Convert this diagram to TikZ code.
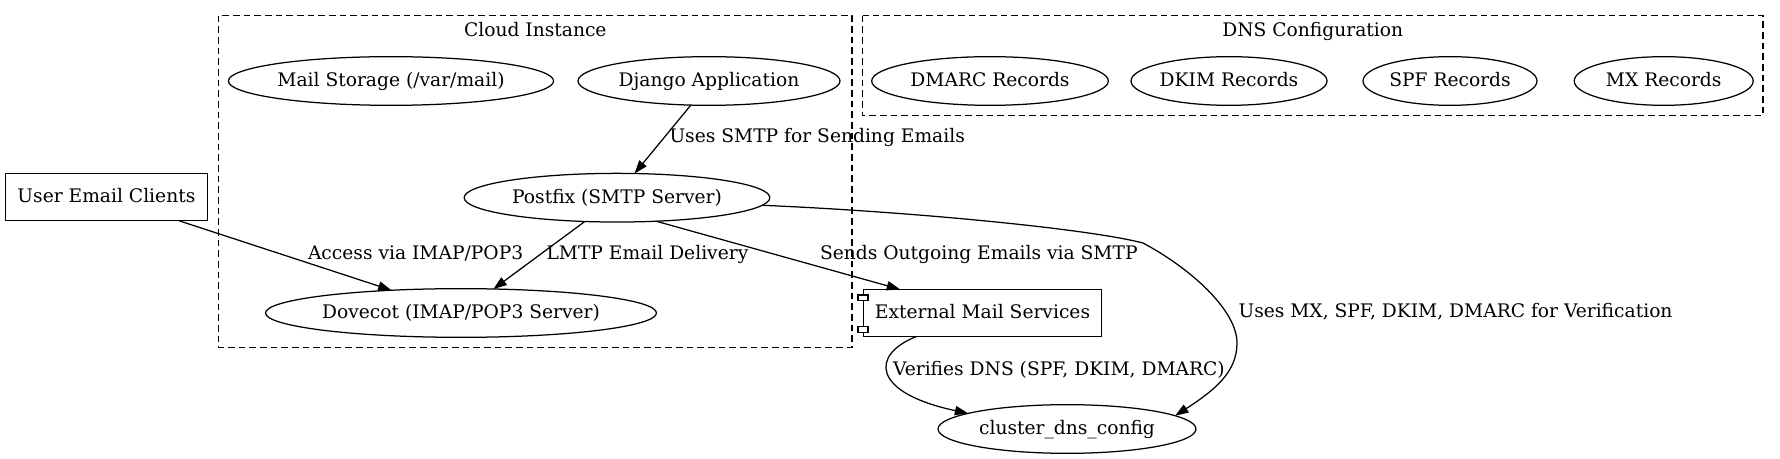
\documentclass[tikz,border=0pt]{standalone}
\usepackage{fontspec}
\setmainfont{DejaVu Serif}
\usetikzlibrary{arrows.meta,calc,shapes.geometric}
\newcommand{\zb}[1]{\makebox[0pt][c]{#1}}
\begin{document}
\begin{tikzpicture}[x=0.6pt,y=-0.6pt,
  every node/.style={font=\fontsize{11.2}{13.4}\selectfont, text height=0.72em, text depth=0pt, inner sep=0pt, outer sep=0pt},
  ell/.style={draw, ellipse, minimum height=29.2pt, line width=0.75pt},
  boxnode/.style={draw, rectangle, line width=0.75pt},
  cluster/.style={draw, dash pattern=on 4pt off 2.4pt, line width=0.75pt},
  edge/.style={line width=0.75pt, -{Triangle[length=8pt,width=5.6pt]}},
  lbl/.style={anchor=west}]
\useasboundingbox (0,0) rectangle (1780,459);
% clusters
\draw[cluster] (218.5,15.7) rectangle (852,347.5);
\node (cloudlbl) at (535.3,30.7) {Cloud Instance};
\draw[cluster] (862.6,15.7) rectangle (1763,115.7);
\node (dnslbl) at (1312.8,30.7) {DNS Configuration};
% nodes
\node[ell, minimum width=195.1pt] (mail) at (391,81) {\zb{Mail Storage (/var/mail)}};
\node[ell, minimum width=157.2pt] (django) at (709,81) {\zb{Django Application}};
\node[ell, minimum width=142pt] (dmarc) at (990,81) {\zb{DMARC Records}};
\node[ell, minimum width=117.6pt] (dkim) at (1229,81) {\zb{DKIM Records}};
\node[ell, minimum width=104.4pt] (spf) at (1450,81) {\zb{SPF Records}};
\node[ell, minimum width=107.4pt] (mx) at (1663.7,81) {\zb{MX Records}};
\node[boxnode, minimum width=121.4pt, minimum height=28.6pt] (user) at (106.4,197) {\zb{User Email Clients}};
\node[ell, minimum width=183.4pt] (postfix) at (617,197.7) {\zb{Postfix (SMTP Server)}};
\node[ell, minimum width=234.6pt] (dovecot) at (461,313) {\zb{Dovecot (IMAP/POP3 Server)}};
\node[boxnode, minimum width=143pt, minimum height=28.4pt] (ext) at (982.5,313) {\zb{External Mail Services}};
\draw[line width=0.75pt, fill=white] ([shift={(-5.3,-18)}]ext.west) rectangle ++(10,5.7);
\draw[line width=0.75pt, fill=white] ([shift={(-5.3,13.7)}]ext.west) rectangle ++(10,5.7);
\node[ell, minimum width=154.8pt] (dns) at (1067,429) {\zb{cluster\_dns\_config}};
% edges
\draw[edge] (django.-127) -- (postfix.54);
\node[lbl] (l1) at (669.5,137) {Uses SMTP for Sending Emails};
\draw[edge] (user) -- (dovecot);
\node[lbl] (l2) at (308,254) {Access via IMAP/POP3};
\draw[edge] (postfix) -- (dovecot);
\node[lbl] (l3) at (546.5,254) {LMTP Email Delivery};
\draw[edge] (postfix.-31) -- ($(ext.north west)+(36.7,0)$);
\node[lbl] (l4) at (820,254) {Sends Outgoing Emails via SMTP};
\draw[edge] (postfix.-3) .. controls (900,211) and (1085,228) .. (1143,243)
  .. controls (1190,268) and (1237,310) .. (1237,343)
  .. controls (1237,372) and (1215,390) .. (dns.7);
\node[lbl] (l5) at (1238.5,311.7) {Uses MX, SPF, DKIM, DMARC for Verification};
\draw[edge] ($(ext.south west)+(52.7,0)$) .. controls (870,355) and (872,393) .. (dns.171);
\node[lbl] (l6) at (893,370) {Verifies DNS (SPF, DKIM, DMARC)};
\end{tikzpicture}
\end{document}
